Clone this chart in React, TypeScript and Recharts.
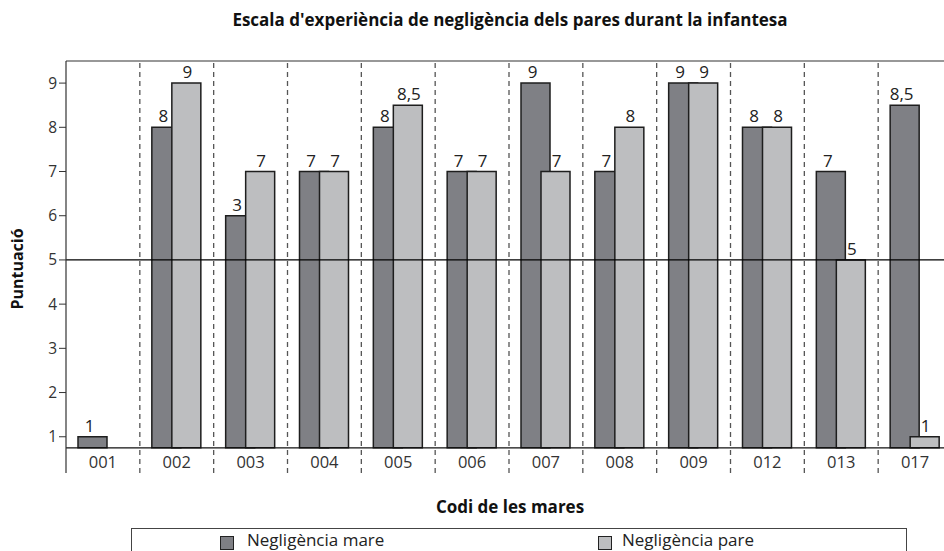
import { Bar, BarChart, LabelList, ReferenceLine, XAxis, YAxis } from "recharts";

const codes = ["001", "002", "003", "004", "005", "006", "007", "008", "009", "012", "013", "017"];
const mare = [1, 8, 6, 7, 8, 7, 9, 7, 9, 8, 7, 8.5];
const pare = [null, 9, 7, 7, 8.5, 7, 7, 8, 9, 8, 5, 1];
// labels as printed on the original (003 reads "3" although the bar stands at 6)
const mareLabels = ["1", "8", "3", "7", "8", "7", "9", "7", "9", "8", "7", "8,5"];
const pareLabels = ["", "9", "7", "7", "8,5", "7", "7", "8", "9", "8", "5", "1"];
const yTicks = [0.5, 1, 1.5, 2, 2.5, 3, 3.5, 4, 4.5, 5, 5.5, 6, 6.5, 7, 7.5, 8, 8.5, 9];

const BASE = 0.75; // bars rise from this line, the code labels sit below it
const FONT = '"Open Sans", "Noto Sans", sans-serif';
const DARK = "#7f8085";
const LIGHT = "#bdbec0";

const data = codes.map((code, i) => ({
  code,
  mare: mare[i],
  pare: pare[i],
  mareLabel: mareLabels[i],
  pareLabel: pareLabels[i],
}));

const valueLabel = (dx: number) => (props: any) => {
  const { x, y, width, value } = props;
  if (value === "" || value == null || x == null) return null;
  return (
    <text x={x + width / 2 + dx} y={y - 5} textAnchor="middle" fontSize={17} fill="#222" fontFamily={FONT}>
      {value}
    </text>
  );
};

const YTick = (props: any) => {
  const { x, y, payload } = props;
  if (!Number.isInteger(payload.value)) return null;
  return (
    <text x={x} y={y} dy={5.5} textAnchor="end" fontSize={15.5} fill="#333" fontFamily={FONT}>
      {payload.value}
    </text>
  );
};

const XTick = (props: any) => {
  const { x, y, payload } = props;
  return (
    <text x={x} y={y - 13} textAnchor="middle" fontSize={16.5} fill="#333" fontFamily={FONT}>
      {payload.value}
    </text>
  );
};

export default function App() {
  return (
    <div
      style={{
        position: "absolute",
        left: 0,
        top: 0,
        width: 944,
        height: 551,
        overflow: "hidden",
        background: "#fff",
        fontFamily: FONT,
        color: "#111",
      }}
    >
      <div style={{ position: "absolute", left: 0, width: 1020, top: 8, textAlign: "center", fontSize: 17, fontWeight: 700 }}>
        Escala d'experiència de negligència dels pares durant la infantesa
      </div>

      <BarChart
        width={960}
        height={551}
        data={data}
        margin={{ top: 61, right: 8, left: 6, bottom: 58 }}
        barSize={29}
        barGap={-9}
        barCategoryGap={0}
      >
        <XAxis dataKey="code" height={20} axisLine={false} tickLine={false} tick={<XTick />} interval={0} />
        <YAxis
          type="number"
          domain={[0.18, 9.5]}
          allowDataOverflow
          ticks={yTicks}
          width={60}
          tickSize={7}
          tickMargin={2}
          tick={<YTick />}
          axisLine={{ stroke: "#333", strokeWidth: 1.2 }}
          tickLine={{ stroke: "#333" }}
        />
        {codes.slice(1).map((c) => (
          <ReferenceLine key={c} x={c} position="start" stroke="#555" strokeWidth={1.3} strokeDasharray="5 4" />
        ))}
        <ReferenceLine y={9.5} stroke="#333" strokeWidth={1.2} />
        <ReferenceLine y={BASE} stroke="#111" strokeWidth={1.2} />
        <Bar
          dataKey={(d: any) => (d.mare == null ? null : [BASE, d.mare])}
          fill={DARK}
          stroke="#1e1e1e"
          strokeWidth={1.5}
          isAnimationActive={false}
        >
          <LabelList dataKey="mareLabel" content={valueLabel(-3)} />
        </Bar>
        <Bar
          dataKey={(d: any) => (d.pare == null ? null : [BASE, d.pare])}
          fill={LIGHT}
          stroke="#1e1e1e"
          strokeWidth={1.5}
          isAnimationActive={false}
        >
          <LabelList dataKey="pareLabel" content={valueLabel(1)} />
        </Bar>
        <ReferenceLine y={5} stroke="#000" strokeWidth={1.2} />
      </BarChart>

      <div
        style={{
          position: "absolute",
          left: 0,
          top: 10,
          width: 34,
          height: 518,
          display: "flex",
          alignItems: "center",
          justifyContent: "center",
        }}
      >
        <div style={{ transform: "rotate(-90deg)", fontSize: 16, fontWeight: 700, whiteSpace: "nowrap" }}>Puntuació</div>
      </div>

      <div style={{ position: "absolute", left: 0, width: 1020, top: 495, textAlign: "center", fontSize: 17, fontWeight: 700 }}>
        Codi de les mares
      </div>

      <div
        style={{
          position: "absolute",
          left: 131,
          top: 528,
          width: 776,
          height: 40,
          border: "1px solid #444",
          boxSizing: "border-box",
          fontSize: 17,
          color: "#222",
        }}
      >
        <div style={{ position: "absolute", left: 88, top: 7, width: 12, height: 12, background: DARK, border: "1px solid #222" }} />
        <div style={{ position: "absolute", left: 115, top: 0, lineHeight: "22px" }}>Negligència mare</div>
        <div style={{ position: "absolute", left: 466, top: 7, width: 12, height: 12, background: LIGHT, border: "1px solid #222" }} />
        <div style={{ position: "absolute", left: 490, top: 0, lineHeight: "22px" }}>Negligència pare</div>
      </div>
    </div>
  );
}
